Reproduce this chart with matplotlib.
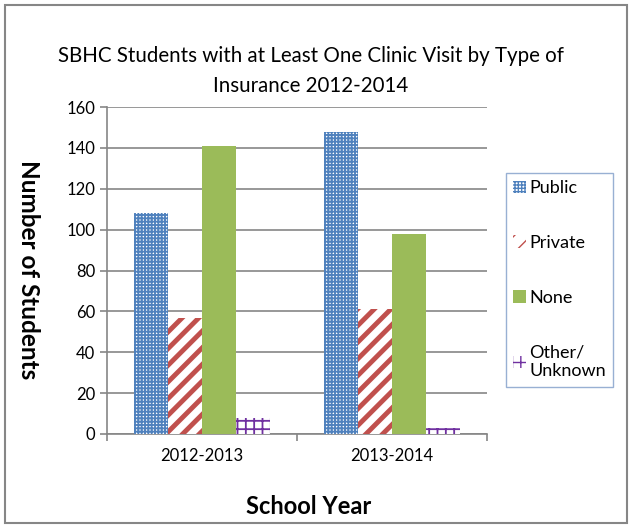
import numpy as np
import matplotlib.pyplot as plt
from matplotlib.patches import Rectangle

plt.rcParams['font.family'] = ['Lato', 'DejaVu Sans']

years = ['2012-2013', '2013-2014']
series = ['Public', 'Private', 'None', 'Other/\nUnknown']
public = [108, 148]
private = [57, 61]
none = [141, 98]
other = [8, 3]

values = [public, private, none, other]
faces = ['white', 'white', '#9BBB59', 'white']
hatch_cols = ['#4F81BD', '#C0504D', '#9BBB59', '#7030A0']
hatches = ['+++++', '//', None, '++']
hatch_lw = [1.35, 3.5, 1.0, 1.3]

fig = plt.figure(figsize=(6.32, 5.28), dpi=100)
ax = fig.add_axes([107/632, 1 - 434/528, 380/632, 327/528])

x = np.arange(len(years))
w = 0.18
for i, vals in enumerate(values):
    offs = (i - 1.5) * w
    with plt.rc_context({'hatch.linewidth': hatch_lw[i]}):
        ax.bar(x + offs, vals, width=w, color=faces[i], edgecolor=hatch_cols[i],
               hatch=hatches[i], linewidth=0, label=series[i], zorder=3)

ax.set_xlim(-0.5, 1.5)
ax.set_ylim(0, 160)
ax.set_yticks(range(0, 161, 20))
ax.set_xticks(x)
ax.set_xticklabels(years)
ax.set_xticks([-0.5, 0.5, 1.5], minor=True)
ax.tick_params(axis='x', which='major', length=0, pad=10, labelsize=12)
ax.tick_params(axis='x', which='minor', length=5, color='#868686', width=1.2)
ax.tick_params(axis='y', length=5, color='#868686', width=1.2, labelsize=12)
ax.grid(axis='y', color='#868686', linewidth=1.2, zorder=0)
for s in ['top', 'right']:
    ax.spines[s].set_visible(False)
for s in ['left', 'bottom']:
    ax.spines[s].set_color('#868686')
    ax.spines[s].set_linewidth(1.2)
ax.set_axisbelow(True)

fig.text(311/632, 1 - 71/528, 'SBHC Students with at Least One Clinic Visit by Type of\nInsurance 2012-2014',
         ha='center', va='center', fontsize=14.8, linespacing=1.6)
fig.text(28/632, 1 - 270/528, 'Number of Students', rotation=270, ha='center', va='center',
         fontsize=17.5, fontweight='bold')
fig.text(309/632, 1 - 506/528, 'School Year', ha='center', va='center',
         fontsize=17, fontweight='bold')

leg = ax.legend(loc='upper left', bbox_to_anchor=(506/632, 1 - 173/528),
                bbox_transform=fig.transFigure, frameon=True, fancybox=False,
                fontsize=13, labelspacing=2.15, handlelength=0.7, handleheight=0.7,
                handletextpad=0.2, borderpad=0.4, borderaxespad=0)
leg.get_frame().set_edgecolor('#7F9DC9')
leg.get_frame().set_linewidth(1.0)

fig.patches.append(Rectangle((5/632, 5/528), 622/632, 518/528, transform=fig.transFigure,
                             fill=False, edgecolor='#868686', linewidth=1.5))

fig.savefig('out.png', dpi=100)
